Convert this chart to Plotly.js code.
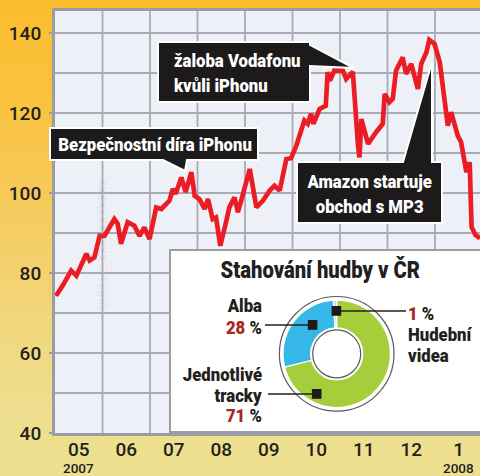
<!DOCTYPE html>
<html><head><meta charset="utf-8">
<script src="https://cdn.plot.ly/plotly-3.0.1.min.js"></script>
<style>
html,body{margin:0;padding:0;}
#chart{width:480px;height:476px;background:linear-gradient(to bottom,#fbbd2d 0%,#f9c23e 20%,#f6cb5e 45%,#f1d87f 70%,#eedf8f 88%,#ede08f 100%);}
</style></head><body><div id="chart"></div>
<script>
// months since 1 May 2007
const monthIndex = [0.02,0.16,0.34,0.45,0.66,0.73,0.83,0.94,1.04,1.25,1.32,1.39,1.53,1.67,1.78,1.88,1.99,2.13,2.24,2.41,2.48,2.54,2.66,2.75,2.87,2.94,3.04,3.15,3.22,3.32,3.39,3.48,3.60,3.67,3.78,3.85,3.92,4.10,4.24,4.38,4.52,4.62,4.73,4.87,4.97,5.08,5.25,5.32,5.39,5.44,5.57,5.70,5.74,5.79,5.88,6.06,6.13,6.27,6.38,6.41,6.45,6.59,6.76,6.90,6.94,7.04,7.11,7.18,7.32,7.39,7.50,7.64,7.71,7.82,7.88,7.99,8.10,8.27,8.34,8.48,8.55,8.66,8.73,8.77,8.85,8.95];
const indexValue = [74.3,76.8,80.6,79.3,84.8,83.1,83.9,89.3,89.3,93.5,92.3,87.3,92.7,91.8,89.3,91.4,88.5,96.4,96.0,98.1,101.0,99.8,103.9,100.2,105.2,99.3,98.5,96.0,98.5,93.5,93.9,86.8,92.7,96.4,98.9,95.2,98.1,106.0,96.4,98.1,100.6,101.8,100.6,108.5,108.7,111.8,118.1,117.3,119.8,117.3,121.0,121.8,130.2,128.1,130.6,130.6,128.5,130.3,111.8,108.9,118.5,112.3,115.2,117.3,124.8,122.7,123.5,130.6,133.9,129.8,132.3,126.0,132.3,135.2,138.3,137.3,132.7,116.8,120.2,114.3,112.7,105.2,107.7,91.5,89.5,88.7];
const monthTickPos = [0.5,1.5,2.5,3.5,4.5,5.5,6.5,7.5,8.5];
const monthLabels = ['05','06','07','08','09','10','11','12','1'];
const yearTickPos = [0.5,8.5];
const yearLabels = ['2007','2008'];
const yTickVals = [40,60,80,100,120,140];
const eventLabels = ['Bezpečnostní díra iPhonu','žaloba Vodafonu<br>kvůli iPhonu','Amazon startuje<br>obchod s MP3'];
const insetTitle = 'Stahování hudby v ČR';
const pieLabels = ['Jednotlivé tracky','Alba','Hudební videa'];
const pieValues = [71,28,1];
const pieColors = ['#a6cd3a','#35b8e8','#d9dadb'];

const W=480,H=476,L=55,R=0,T=11,B=43;
const pw=W-L-R, ph=H-T-B;
const px=x=>(x-L)/pw, py=y=>(H-B-y)/ph;
const path=pts=>'M'+pts.map(p=>px(p[0]).toFixed(5)+','+py(p[1]).toFixed(5)).join('L')+'Z';
const DARK='#231f20', RED='#a8281c', GRID='#a9abb2';
const FONT="Roboto, 'DejaVu Sans', sans-serif";
const SX=0.88; // horizontal condensing for the bold condensed lettering

const shapes=[];
for(let m=1;m<=8;m++) shapes.push({type:'line',xref:'x',yref:'paper',x0:m,x1:m,y0:0,y1:1,layer:'below',line:{color:GRID,width:1.8}});
for(let v=50;v<=140;v+=10) shapes.push({type:'line',xref:'paper',yref:'y',x0:0,x1:1,y0:v,y1:v,layer:'below',line:{color:GRID,width:1.8}});
// inset panel
shapes.push({type:'rect',xref:'paper',yref:'paper',x0:px(170),x1:px(484),y0:py(432),y1:py(250),layer:'below',fillcolor:'#ffffff',line:{color:'#9c9ea3',width:2}});
// callout boxes
const box={type:'path',xref:'paper',yref:'paper',layer:'above',fillcolor:'#1c1a1b',line:{color:'#ffffff',width:2}};
shapes.push(Object.assign({},box,{path:path([[50,128],[258,128],[258,160],[187,160],[185,171],[163,160],[50,160]])}));
shapes.push(Object.assign({},box,{path:path([[158,42],[310,42],[310,45],[354,68],[310,66],[310,102],[158,102]])}));
shapes.push(Object.assign({},box,{path:path([[297,162],[403,162],[432,62],[432,162],[442,162],[442,223],[297,223]])}));
// donut rings
const cx=336.7, cy=353.8;
const circ=(r,opt)=>Object.assign({type:'circle',xref:'paper',yref:'paper',layer:'above',x0:px(cx-r),x1:px(cx+r),y0:py(cy+r),y1:py(cy-r)},opt);
shapes.push(circ(55.4,{line:{color:'#ffffff',width:3.4}}));
shapes.push(circ(57.3,{line:{color:'#5a5a5a',width:1.2}}));
shapes.push(circ(24,{line:{color:'#5a5a5a',width:1.2}}));
// connectors + markers
const seg=(x0,y0,x1,y1)=>({type:'line',xref:'paper',yref:'paper',layer:'above',x0:px(x0),x1:px(x1),y0:py(y0),y1:py(y1),line:{color:DARK,width:1.3}});
const sq=(x0,y0)=>({type:'rect',xref:'paper',yref:'paper',layer:'above',x0:px(x0),x1:px(x0+9.6),y0:py(y0+9.8),y1:py(y0),fillcolor:'#1c1a1b',line:{width:0}});
shapes.push(seg(265,325,312,325), sq(307.8,320));
shapes.push(seg(268,394,316,394), sq(311.9,389));
shapes.push(seg(336,311,406,311), sq(331.6,306));

const ann=[];
const condensed={}; // annotation index -> anchor side kept fixed while condensing
const addC=(a,side)=>{condensed[ann.length]=side; ann.push(a);};
const wfont={family:FONT,size:19,color:'#ffffff',weight:900};
addC({xref:'paper',yref:'paper',x:px(155),y:py(144),text:eventLabels[0],showarrow:false,xanchor:'center',yanchor:'middle',font:wfont},'center');
addC({xref:'paper',yref:'paper',x:px(172),y:py(73),text:eventLabels[1],showarrow:false,xanchor:'left',yanchor:'middle',align:'left',font:wfont},'left');
addC({xref:'paper',yref:'paper',x:px(369.5),y:py(194),text:eventLabels[2],showarrow:false,xanchor:'center',yanchor:'middle',align:'center',font:wfont},'center');
const dfont=(s)=>({family:FONT,size:s,color:DARK,weight:900});
addC({xref:'paper',yref:'paper',x:px(320),y:py(270),text:insetTitle,showarrow:false,xanchor:'center',yanchor:'middle',font:dfont(23)},'center');
const pct=i=>'<span style="color:'+RED+'">'+pieValues[i]+'</span> %';
const lab=(txt,x,y,anchor)=>addC({xref:'paper',yref:'paper',x:px(x),y:py(y),text:txt,showarrow:false,xanchor:anchor,yanchor:'middle',font:dfont(19)},anchor);
lab(pieLabels[1],264,305,'right'); lab(pct(1),264,327,'right');
const jt=pieLabels[0].split(' ');
lab(jt[0],264,374,'right'); lab(jt[1],264,395,'right'); lab(pct(0),264,415,'right');
const hv=pieLabels[2].split(' ');
lab(pct(2),406,313,'left'); lab(hv[0],406,334,'left'); lab(hv[1],406,355,'left');
// years under month labels
yearLabels.forEach((t,i)=>ann.push({xref:'x',yref:'paper',x:yearTickPos[i],y:py(467.6),text:t,showarrow:false,xanchor:'center',yanchor:'middle',borderpad:0,font:{family:FONT,size:13.5,color:DARK,weight:500}}));
// faint source watermark
ann.push({xref:'paper',yref:'paper',x:px(94),y:py(312),text:'QUELLE: XXXXXXXXXXX',textangle:-90,showarrow:false,font:{family:FONT,size:12,color:'rgba(140,140,155,0.16)'}});

const data=[
 {type:'scatter',mode:'lines',x:monthIndex,y:indexValue,line:{color:'#ec1c24',width:4.7},hoverinfo:'skip',showlegend:false},
 {type:'pie',values:pieValues,labels:pieLabels,sort:false,direction:'clockwise',rotation:0,hole:0.485,
  marker:{colors:pieColors,line:{color:'#ffffff',width:1.2}},textinfo:'none',hoverinfo:'skip',showlegend:false,
  domain:{x:[px(cx-53.7),px(cx+53.7)],y:[py(cy+53.7),py(cy-53.7)]}}
];
const tickfont={family:FONT,size:19,color:DARK,weight:500};
const layout={
 width:W,height:H,margin:{l:L,r:R,t:T,b:B,pad:0},
 paper_bgcolor:'rgba(0,0,0,0)',plot_bgcolor:'#eef0f7',showlegend:false,
 xaxis:{range:[0,pw/47.5],tickvals:monthTickPos,ticktext:monthLabels,ticks:'',showgrid:false,zeroline:false,
  showline:true,mirror:true,linecolor:'#9a9da4',linewidth:3,tickfont:tickfont,ticklabelstandoff:-3,fixedrange:true},
 yaxis:{range:[40,40+ph/4],tickvals:yTickVals,ticks:'outside',ticklen:3,tickwidth:2,tickcolor:'#9a9da4',showgrid:false,zeroline:false,
  showline:true,linecolor:'#9a9da4',linewidth:3,tickfont:tickfont,ticklabelstandoff:4,fixedrange:true},
 shapes:shapes,annotations:ann
};
Plotly.newPlot('chart',data,layout,{displayModeBar:false,staticPlot:true}).then(gd=>{
  gd.querySelectorAll('g.annotation').forEach(g=>{
    const side=condensed[+g.getAttribute('data-index')];
    if(!side) return;
    const t=g.querySelector('text.annotation-text');
    if(!t) return;
    const bb=t.getBBox();
    const ax=side==='left'?bb.x:(side==='right'?bb.x+bb.width:bb.x+bb.width/2);
    t.setAttribute('transform','translate('+ax+',0) scale('+SX+',1) translate('+(-ax)+',0)');
  });
});
</script></body></html>
